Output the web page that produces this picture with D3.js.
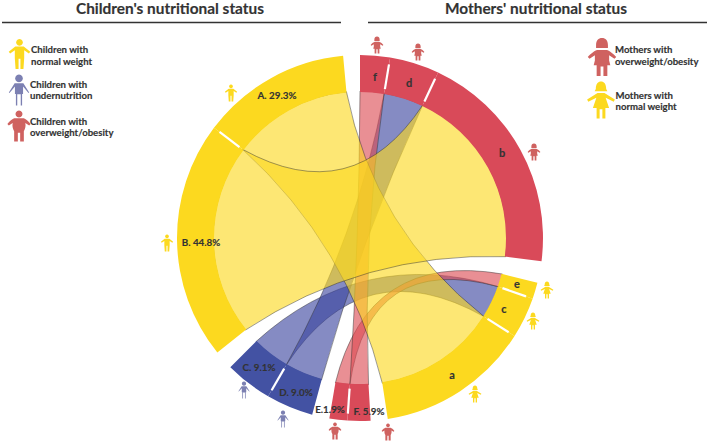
<!DOCTYPE html>
<html>
<head>
<meta charset="utf-8">
<script src="https://cdnjs.cloudflare.com/ajax/libs/d3/7.8.5/d3.min.js"></script>
<style>
  html, body { margin: 0; padding: 0; background: #fff; }
  svg { display: block; }
  text { font-family: Lato, "Open Sans", sans-serif; font-weight: 700; fill: #333; stroke: #333; stroke-width: 0.15px; }
</style>
</head>
<body>
<div class="container"></div>
<script>
// data: segments clockwise from twelve o'clock. drawn shares are read off the
// arc lengths in the picture, they do not quite follow the printed percentages
const segmentIds = ['f', 'd', 'b', 'e', 'c', 'a', 'F', 'E', 'D', 'C', 'B', 'A'];
const segmentShares = [5.74, 9.55, 43.6, 3.14, 7.86, 29.6, 4.41, 3.45, 9.07, 9.07, 45.9, 28.84];
const segmentKinds = ['over', 'over', 'over', 'normal', 'normal', 'normal', 'over', 'over', 'under', 'under', 'normal', 'normal'];
const segmentLabels = ['f', 'd', 'b', 'e', 'c', 'a', 'F. 5.9%', 'E.1.9%', 'D. 9.0%', 'C. 9.1%', 'B. 44.8%', 'A. 29.3%'];
const clusterEnds = ['b', 'a', 'E', 'C', 'A'];
const links = [['C', 'c'], ['D', 'd'], ['E', 'e'], ['F', 'f'], ['A', 'a'], ['B', 'b']];

// config
const config = {
  width: 709,
  height: 442,
  cx: 360,
  cy: 238,
  outer: 183,
  inner: 146,
  arcDegrees: 330.8,
  gapDegrees: [6.9, 5.4, 5.5, 6.1, 5.3],
  // how far the ribbon control point sits from the centre, towards the chord
  curvePull: { under: 0.1, over: 0.14, normal: 0.25 },
  color: {
    normal: '#FCD91F',
    over: '#D94A59',
    under: '#4352A3',
    iconOver: '#CF6260',
    iconUnder: '#7C80B2',
  },
  ribbon: { normal: '#FCD91F', over: '#DB4A52', under: '#3A449E' },
};

// label anchors and pictograms, picked by eye
const labelPos = {
  f: [375, 78], d: [409, 84], b: [502, 154], e: [517, 285], c: [504, 310], a: [452, 376],
  F: [369, 412], E: [330, 410], D: [296, 393], C: [259, 368], B: [201, 243], A: [277, 96],
};
const ringIcons = [
  ['motherOver', 377, 45], ['motherOver', 418, 52], ['motherOver', 534, 152],
  ['motherNormal', 547, 290], ['motherNormal', 533, 321], ['motherNormal', 475, 394],
  ['childOver', 388, 432], ['childOver', 335, 431], ['childUnder', 283, 419],
  ['childUnder', 244, 390], ['childNormal', 167, 243], ['childNormal', 231, 93],
];
const legendItems = [
  { icon: 'childNormal', x: 19.5, y: 54, h: 30, tx: 31, ty: [50, 62], lines: ['Children with', 'normal weight'] },
  { icon: 'childUnder', x: 19, y: 90, h: 31, tx: 30, ty: [85, 96], lines: ['Children with', 'undernutrition'] },
  { icon: 'childOver', x: 19, y: 126, h: 31, tx: 30, ty: [122, 133], lines: ['Children with', 'overweight/obesity'] },
  { icon: 'motherOver', x: 602, y: 57, h: 38, tx: 615, ty: [50, 62], lines: ['Mothers with', 'overweight/obesity'] },
  { icon: 'motherNormal', x: 601, y: 100, h: 37, tx: 615.5, ty: [96, 107], lines: ['Mothers with', 'normal weight'] },
];

// pictogram outlines in a 24x32 box
const iconPaths = {
  childNormal: 'M12 0a3.6 3.6 0 1 1-.01 0ZM7.5 8H16.5L23.5 13.5 22 15.5 17 12V20.5L16.2 32H13V21H11V32H7.8L7 20.5V12L2 15.5 .5 13.5Z',
  childUnder: 'M12 0a4 4 0 1 1-.01 0ZM7.5 9H16.5L22.5 18.5 21.8 19 16.2 12.5V20H15.2V32H13.8V20.5H10.2V32H8.8V20H7.8V12.5L2.2 19 1.5 18.5Z',
  childOver: 'M12 0a3.6 3.6 0 1 1-.01 0ZM7 8H17C18.5 8.5 22 11 24 14L22.5 15.5 18.5 13C19.2 16 18.5 19 17 21.5V32H13.2V23H10.8V32H7V21.5C5.5 19 4.8 16 5.5 13L1.5 15.5 0 14C2 11 5.5 8.5 7 8Z',
  motherOver: 'M7 6C7 2 9 0 12 0S17 2 17 6V8.5H7ZM8 10H16C18 10.5 21.5 13 24 16L22.5 17.5 18 14.5V19L19 23H16.5V32H13.2V24H10.8V32H7.5V23H5L6 19V14.5L1.5 17.5 0 16C2.5 13 6 10.5 8 10Z',
  motherNormal: 'M7.5 6.5C7.5 2 9.5 0 12 0S16.5 2 16.5 6.5L17.5 8.5H6.5ZM9 10H15L24 15.5 23 17.5 16 14 19 23H15.8V32H13.2V24H10.8V32H8.2V23H5L8 14 1 17.5 0 15.5Z',
};
const iconColors = {
  childNormal: config.color.normal,
  childUnder: config.color.iconUnder,
  childOver: config.color.iconOver,
  motherOver: config.color.iconOver,
  motherNormal: config.color.normal,
};

// arcs: shares go through a linear scale, then the cluster gaps get added
const rad = Math.PI / 180;
const angleScale = d3.scaleLinear()
  .domain([0, d3.sum(segmentShares)])
  .range([0, config.arcDegrees]);

let cursor = 0;
let gapIndex = 0;
const segments = segmentIds.map((id, i) => {
  const startDeg = cursor;
  const endDeg = startDeg + angleScale(segmentShares[i]);
  cursor = endDeg;
  const isEnd = clusterEnds.includes(id);
  if (isEnd) {
    cursor += config.gapDegrees[gapIndex];
    gapIndex += 1;
  }
  return {
    id: id,
    kind: segmentKinds[i],
    label: segmentLabels[i],
    startAngle: startDeg * rad,
    endAngle: endDeg * rad,
    isEnd: isEnd,
  };
});
const byId = (id) => segments.find((s) => s.id === id);

// same outline as d3.ribbon, but the curves do not go all the way to the centre
function ribbonPath(source, target) {
  const r = config.inner + 1;
  const pull = config.curvePull[source.kind];
  const point = (a) => [r * Math.cos(a - Math.PI / 2), r * Math.sin(a - Math.PI / 2)];
  const p = d3.path();
  const curveTo = (from, to) => {
    const a = point(from);
    const b = point(to);
    p.quadraticCurveTo(pull * (a[0] + b[0]) / 2, pull * (a[1] + b[1]) / 2, b[0], b[1]);
  };
  const start = point(source.startAngle);
  p.moveTo(start[0], start[1]);
  p.arc(0, 0, r, source.startAngle - Math.PI / 2, source.endAngle - Math.PI / 2);
  curveTo(source.endAngle, target.startAngle);
  p.arc(0, 0, r, target.startAngle - Math.PI / 2, target.endAngle - Math.PI / 2);
  curveTo(target.endAngle, source.startAngle);
  p.closePath();
  return p.toString();
}

const svg = d3.select('.container')
  .append('svg')
  .attr('width', config.width)
  .attr('height', config.height);

// titles and rules
const headers = [
  { text: "Children's nutritional status", x: 170, x0: 2, x1: 341 },
  { text: "Mothers' nutritional status", x: 536, x0: 368, x1: 707 },
];
svg.selectAll('.title').data(headers).enter().append('text')
  .attr('class', 'title')
  .attr('x', (d) => d.x)
  .attr('y', 13.5)
  .attr('text-anchor', 'middle')
  .style('font-size', '15.4px')
  .text((d) => d.text);
svg.selectAll('.rule').data(headers).enter().append('line')
  .attr('class', 'rule')
  .attr('x1', (d) => d.x0)
  .attr('x2', (d) => d.x1)
  .attr('y1', 22.5)
  .attr('y2', 22.5)
  .attr('stroke', '#333')
  .attr('stroke-width', 1.6);

const chart = svg.append('g')
  .attr('transform', `translate(${config.cx},${config.cy})`);

// ribbons go under the arcs, links keep their listed order
chart.append('g').selectAll('path')
  .data(links)
  .enter().append('path')
  .attr('d', (d) => ribbonPath(byId(d[0]), byId(d[1])))
  .attr('fill', (d) => config.ribbon[byId(d[0]).kind])
  .attr('fill-opacity', 0.62)
  .attr('stroke', '#2b2b2b')
  .attr('stroke-opacity', 0.65)
  .attr('stroke-width', 0.7);

const arc = d3.arc().innerRadius(config.inner).outerRadius(config.outer);
chart.append('g').selectAll('path')
  .data(segments)
  .enter().append('path')
  .attr('d', arc)
  .attr('fill', (d) => config.color[d.kind]);

// white ticks between neighbours inside a cluster
chart.append('g').selectAll('line')
  .data(segments.filter((d) => !d.isEnd))
  .enter().append('line')
  .attr('x1', (d) => 151 * Math.sin(d.endAngle))
  .attr('y1', (d) => -151 * Math.cos(d.endAngle))
  .attr('x2', (d) => 176 * Math.sin(d.endAngle))
  .attr('y2', (d) => -176 * Math.cos(d.endAngle))
  .attr('stroke', '#fff')
  .attr('stroke-width', 2.2);

svg.append('g').selectAll('.seg-label')
  .data(segments)
  .enter().append('text')
  .attr('class', 'seg-label')
  .attr('x', (d) => labelPos[d.id][0])
  .attr('y', (d) => labelPos[d.id][1] + 3.4)
  .attr('text-anchor', 'middle')
  .style('font-size', (d) => (d.label.length > 1 ? '9.8px' : '11px'))
  .text((d) => d.label);

function addIcon(name, x, y, h) {
  const s = h / 32;
  svg.append('path')
    .attr('d', iconPaths[name])
    .attr('fill', iconColors[name])
    .attr('transform', `translate(${x - 12 * s},${y - 16 * s}) scale(${s})`);
}

ringIcons.forEach((d) => addIcon(d[0], d[1], d[2], 17));

legendItems.forEach((d) => {
  addIcon(d.icon, d.x, d.y, d.h);
  d.lines.forEach((line, i) => {
    svg.append('text')
      .attr('x', d.tx)
      .attr('y', d.ty[i] + 3.4)
      .style('font-size', '9.6px')
      .text(line);
  });
});
</script>
</body>
</html>
